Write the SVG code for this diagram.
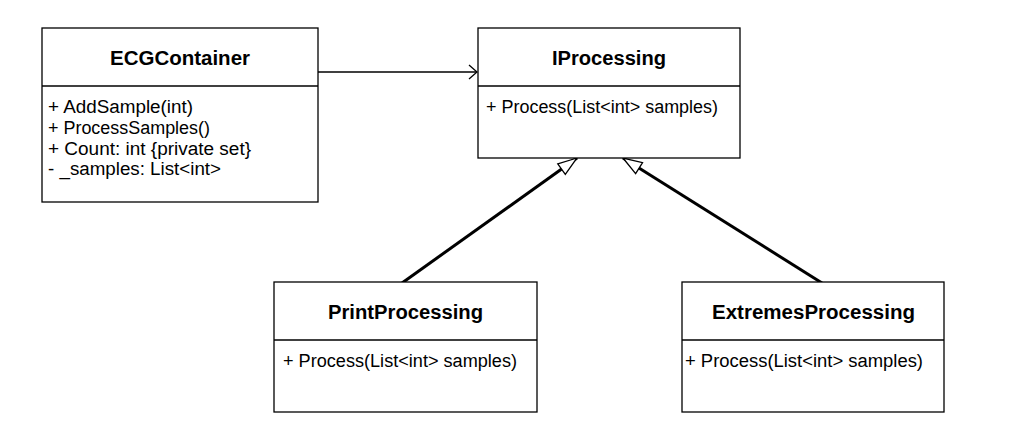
<svg xmlns="http://www.w3.org/2000/svg" width="1018" height="431" viewBox="0 0 1018 431">
<style>
  .box { fill: #ffffff; stroke: #000000; stroke-width: 1.3; }
  .div { stroke: #000000; stroke-width: 1.3; }
  .title { font-family: "Liberation Sans", Arial, sans-serif; font-weight: bold; font-size: 20px; fill: #000000; text-anchor: start; }
  .body { font-family: "Liberation Sans", Arial, sans-serif; font-size: 18px; fill: #000000; }
  .assoc { stroke: #000000; stroke-width: 1.3; fill: none; }
  .gen { stroke: #000000; stroke-width: 3; fill: none; }
</style>
<defs>
  <marker id="openArrow" markerUnits="userSpaceOnUse" markerWidth="20" markerHeight="20" viewBox="-10 -10 20 20" refX="0" refY="0" orient="auto" overflow="visible">
    <path d="M-8,-7 L0,0 L-8,7" fill="none" stroke="#000000" stroke-width="1.3"/>
  </marker>
  <marker id="hollowTri" markerUnits="userSpaceOnUse" markerWidth="30" markerHeight="30" viewBox="-25 -15 30 30" refX="0" refY="0" orient="auto" overflow="visible">
    <path d="M0,0 L-19,-6.5 L-19,6.5 Z" fill="#ffffff" stroke="#000000" stroke-width="1.3" stroke-linejoin="miter"/>
  </marker>
</defs>
<rect width="1018" height="431" fill="#ffffff"/>

<g id="connectors">
  <line class="assoc" x1="318" y1="72" x2="477" y2="72" marker-end="url(#openArrow)"/>
  <line class="gen" x1="402" y1="283" x2="577" y2="158" marker-end="url(#hollowTri)"/>
  <line class="gen" x1="822" y1="283" x2="623" y2="158" marker-end="url(#hollowTri)"/>
</g>

<g id="ECGContainer">
  <rect class="box" x="42" y="28" width="276" height="174"/>
  <line class="div" x1="42" y1="86" x2="318" y2="86"/>
  <text class="title" x="110" y="65" textLength="140" lengthAdjust="spacingAndGlyphs">ECGContainer</text>
  <text class="body" x="48" y="113" textLength="145" lengthAdjust="spacingAndGlyphs">+ AddSample(int)</text>
  <text class="body" x="48" y="134" textLength="162" lengthAdjust="spacingAndGlyphs">+ ProcessSamples()</text>
  <text class="body" x="48" y="155" textLength="203" lengthAdjust="spacingAndGlyphs">+ Count: int {private set}</text>
  <text class="body" x="48" y="175" textLength="173" lengthAdjust="spacingAndGlyphs">- _samples: List&lt;int&gt;</text>
</g>

<g id="IProcessing">
  <rect class="box" x="478" y="28" width="262" height="130"/>
  <line class="div" x1="478" y1="86" x2="740" y2="86"/>
  <text class="title" x="552" y="65" textLength="114" lengthAdjust="spacingAndGlyphs">IProcessing</text>
  <text class="body" x="486" y="113" textLength="232" lengthAdjust="spacingAndGlyphs">+ Process(List&lt;int&gt; samples)</text>
</g>

<g id="PrintProcessing">
  <rect class="box" x="274" y="282" width="263" height="130"/>
  <line class="div" x1="274" y1="340" x2="537" y2="340"/>
  <text class="title" x="328" y="319" textLength="155" lengthAdjust="spacingAndGlyphs">PrintProcessing</text>
  <text class="body" x="283" y="367" textLength="234" lengthAdjust="spacingAndGlyphs">+ Process(List&lt;int&gt; samples)</text>
</g>

<g id="ExtremesProcessing">
  <rect class="box" x="682" y="282" width="262" height="130"/>
  <line class="div" x1="682" y1="340" x2="944" y2="340"/>
  <text class="title" x="712" y="319" textLength="203" lengthAdjust="spacingAndGlyphs">ExtremesProcessing</text>
  <text class="body" x="685" y="367" textLength="238" lengthAdjust="spacingAndGlyphs">+ Process(List&lt;int&gt; samples)</text>
</g>
</svg>
